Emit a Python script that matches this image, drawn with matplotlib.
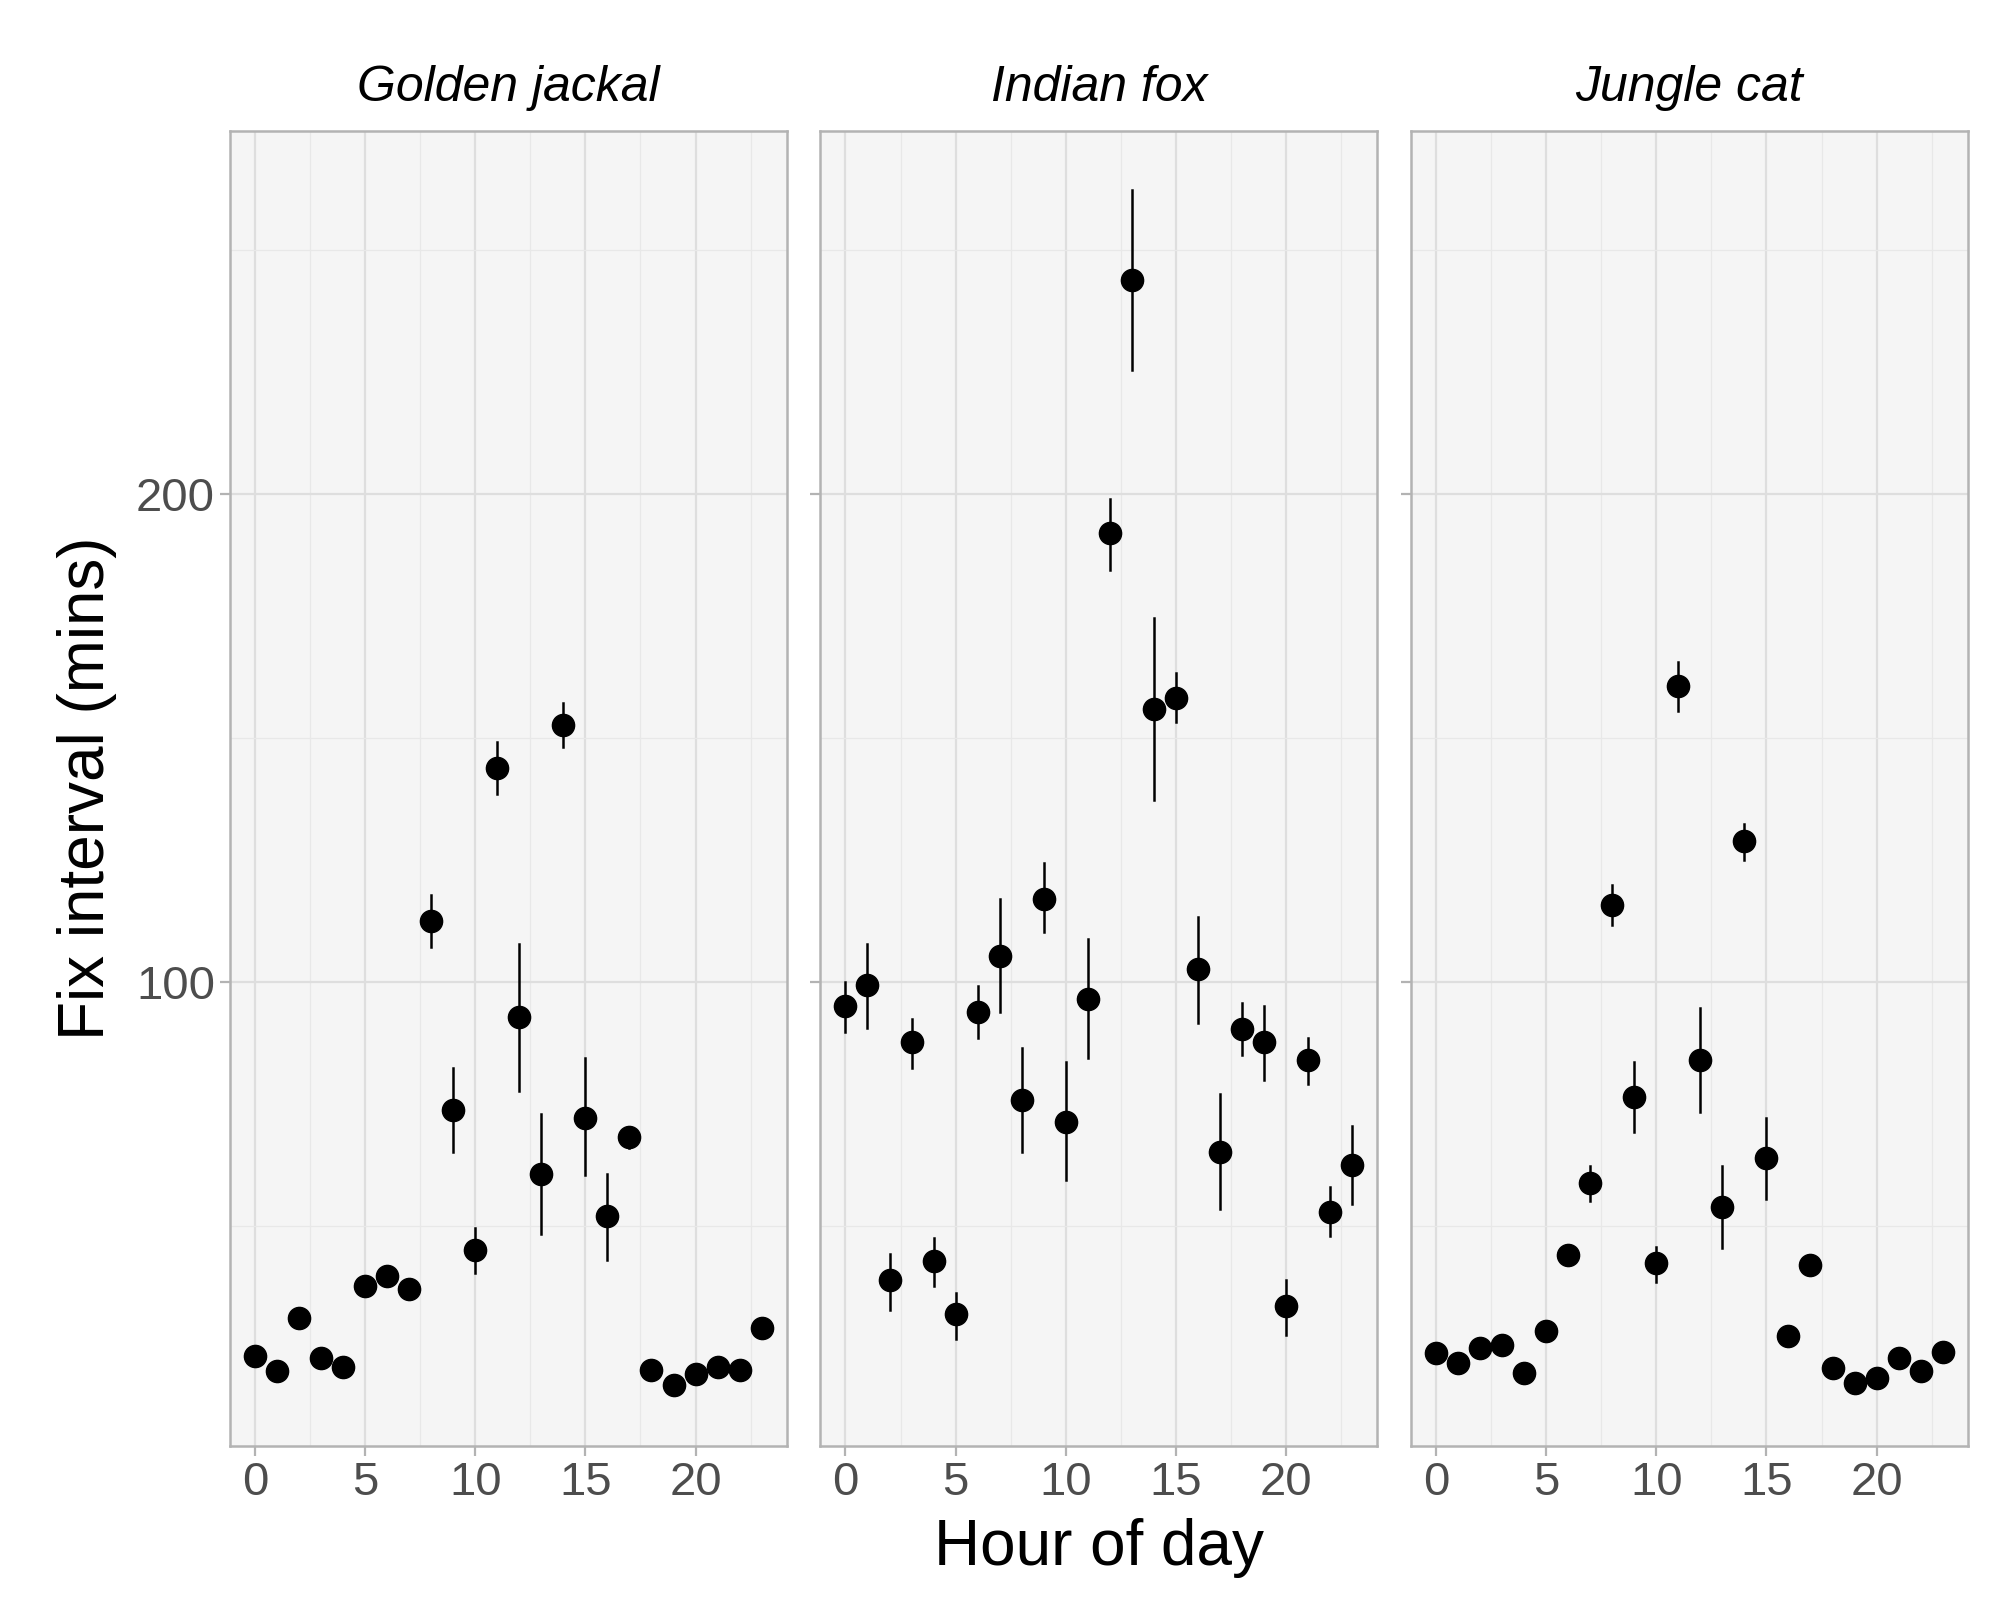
import matplotlib
matplotlib.use("Agg")
import matplotlib.pyplot as plt
import numpy as np

plt.rcParams['font.family'] = ['Liberation Sans', 'DejaVu Sans']

hours = list(range(24))
species = ["Golden jackal", "Indian fox", "Jungle cat"]
jackal = [23.5,20.3,31.3,23,21.1,37.7,39.8,37.2,112.6,73.8,45.2,143.9,92.8,60.7,152.7,72.2,52.1,68.2,20.6,17.4,19.8,21.1,20.6,29.1]
jackal_hi = [None]*6 + [41.5,None,117.9,82.4,49.7,149.2,107.8,73,157.2,84.5,60.7,69.8] + [None]*6
jackal_lo = [None]*6 + [38.0,None,107.2,65.2,40.4,138.5,77.8,48.4,148.1,60.4,43,66] + [None]*6
fox = [95.2,99.5,39,87.7,42.8,32.1,93.9,105.3,75.9,117.1,71.4,96.5,192,243.9,155.9,158.3,102.7,65.2,90.4,87.7,33.7,84,52.9,62.6]
fox_hi = [100,107.8,44.4,92.5,47.6,36.4,99.2,117.1,86.6,124.3,83.7,108.8,198.9,262.3,174.6,163.4,113.4,77,95.7,95.2,39,88.5,58,70.6]
fox_lo = [89.8,90.6,32.9,82.4,37.7,27,88.5,93.9,65.2,110.2,59.4,84.5,184.5,225.4,137.4,153.2,91.7,53.5,85,79.9,27.8,79.1,47.9,54.5]
cat = [24,21.9,25.1,25.7,20,28.6,44.1,58.8,115.8,76.5,42.5,160.7,84,54,128.9,63.9,27.5,42,20.9,17.9,19,23,20.3,24.3]
cat_hi = [None]*7 + [62.3,119.8,83.7,45.7,165.5,94.7,62.3,132.4,72.2] + [None]*8
cat_lo = [None]*7 + [55.1,111.8,69.3,38.5,155.6,73.3,45.5,125.1,55.6] + [None]*8

data = [(jackal, jackal_lo, jackal_hi), (fox, fox_lo, fox_hi), (cat, cat_lo, cat_hi)]

fig, axes = plt.subplots(1, 3, figsize=(20, 16), dpi=100, sharey=True)
fig.subplots_adjust(left=0.1148, right=0.984, bottom=0.0963, top=0.918, wspace=0.0595)
for ax, name, (v, lo, hi) in zip(axes, species, data):
    ax.set_facecolor("#F5F5F5")
    for h, l, u in zip(hours, lo, hi):
        if l is not None:
            ax.plot([h, h], [l, u], color="black", lw=1.8, zorder=3)
    ax.plot(hours, v, "o", color="black", ms=16, zorder=4)
    ax.set_xticks([0, 5, 10, 15, 20])
    ax.set_xticks(np.arange(2.5, 25, 5), minor=True)
    ax.set_yticks([100, 200])
    ax.set_yticks([50, 150, 250], minor=True)
    ax.set_xlim(-1.15, 24.15)
    ax.set_ylim(5, 274.3)
    ax.grid(which="major", color="#DEDEDE", lw=1.6)
    ax.grid(which="minor", color="#E8E8E8", lw=0.9)
    ax.set_axisbelow(True)
    for s in ax.spines.values():
        s.set_color("#B3B3B3"); s.set_linewidth(1.8)
    ax.tick_params(which="major", labelsize=34, colors="#B3B3B3", labelcolor="#4D4D4D", length=7, width=1.6)
    ax.tick_params(which="minor", length=0)
    ax.set_title(name, fontstyle="italic", fontsize=36, pad=22)
axes[0].set_ylabel("Fix interval (mins)", fontsize=46, labelpad=14)
axes[1].set_xlabel("Hour of day", fontsize=46, labelpad=10)
fig.savefig("out.png")
